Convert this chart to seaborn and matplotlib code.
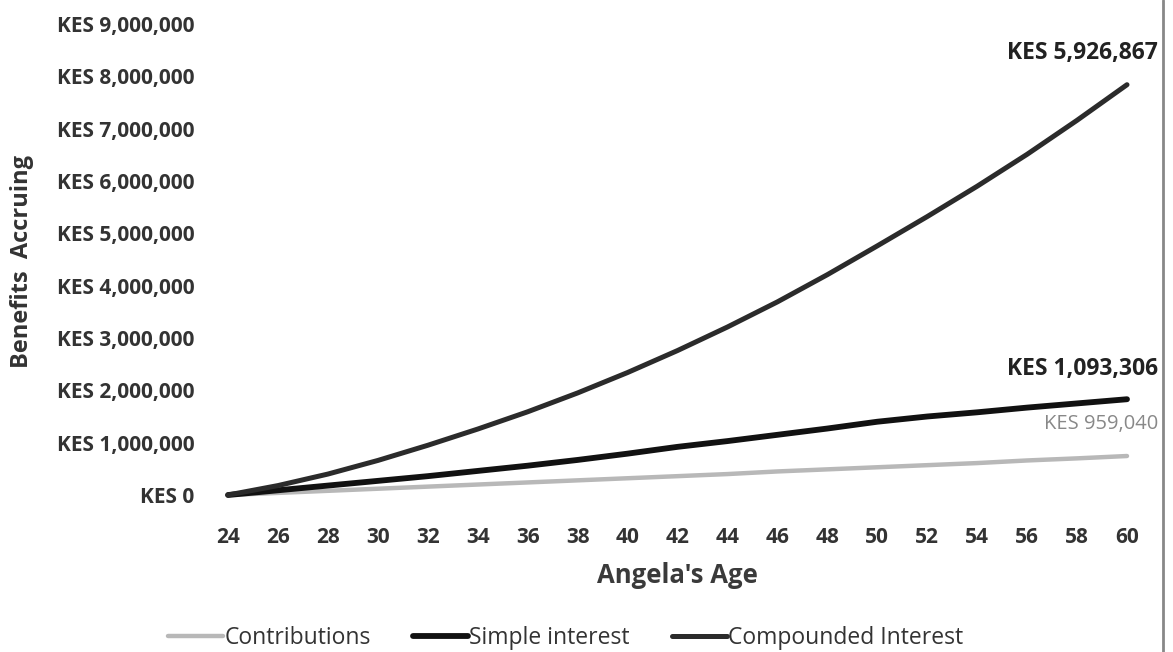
import numpy as np
import pandas as pd
import matplotlib
matplotlib.use("Agg")
import matplotlib.pyplot as plt
from matplotlib.lines import Line2D
import seaborn as sns

# values (KES, millions)
ages = [24, 26, 28, 30, 32, 34, 36, 38, 40, 42, 44, 46, 48, 50, 52, 54, 56, 58, 60]
contributions = [0.0, 0.04, 0.08, 0.12, 0.16, 0.20, 0.24, 0.28, 0.32, 0.36,
                 0.40, 0.45, 0.49, 0.53, 0.57, 0.61, 0.66, 0.70, 0.745]
simple_interest = [0.0, 0.09, 0.18, 0.27, 0.36, 0.46, 0.56, 0.67, 0.79, 0.92,
                   1.03, 1.15, 1.27, 1.40, 1.50, 1.58, 1.67, 1.75, 1.83]
compounded = [0.0, 0.18, 0.40, 0.66, 0.95, 1.26, 1.59, 1.95, 2.34, 2.76,
              3.21, 3.69, 4.21, 4.76, 5.32, 5.90, 6.51, 7.16, 7.84]

series_names = ["Contributions", "Simple interest", "Compounded Interest"]
series_colors = ["#b8b8b8", "#111111", "#2b2b2b"]
series_widths = [3.2, 4.2, 3.6]
end_labels = ["KES 959,040", "KES 1,093,306", "KES 5,926,867"]

rows = []
for name, vals in zip(series_names, [contributions, simple_interest, compounded]):
    for a, v in zip(ages, vals):
        rows.append({"age": a, "value": v * 1e6, "series": name})
df = pd.DataFrame(rows)

sns.set_style("white")
plt.rcParams["font.family"] = ["Open Sans", "DejaVu Sans"]

W, H = 1173, 652
fig = plt.figure(figsize=(W / 100, H / 100), dpi=100)
# axes placed by pixel: x 228..1127, y 24..495
ax = fig.add_axes([228 / W, 1 - 495 / H, (1127 - 228) / W, (495 - 24) / H])

sns.lineplot(data=df, x="age", y="value", hue="series", hue_order=series_names,
             palette=dict(zip(series_names, series_colors)), legend=False, ax=ax)
for line, lw in zip(ax.get_lines(), series_widths):
    line.set_linewidth(lw)
    line.set_solid_capstyle("round")
    line.set_clip_on(False)

ax.set_xlim(24, 60)
ax.set_ylim(0, 9e6)
ax.set_xticks(ages)
ax.set_xticklabels([str(a) for a in ages], fontsize=15, fontweight="bold", color="#333333")
yt = np.arange(0, 9e6 + 1, 1e6)
ax.set_yticks(yt)
ax.set_yticklabels(["KES 0" if v == 0 else f"KES {int(v):,}" for v in yt],
                   fontsize=15, fontweight="bold", color="#333333")
ax.tick_params(axis="x", length=0, pad=23)
ax.tick_params(axis="y", length=0, pad=24)
for s in ax.spines.values():
    s.set_visible(False)
ax.grid(False)

ax.set_xlabel("Angela's Age", fontsize=18.5, fontweight="bold", color="#3a3a3a", labelpad=10)
ax.set_ylabel("")
fig.text(22 / W, 1 - 262 / H, "Benefits  Accruing", rotation=90, ha="center", va="center",
         fontsize=17, fontweight="bold", color="#333333")

# end labels
fig.text(1158 / W, 1 - 53 / H, end_labels[2], ha="right", va="center",
         fontsize=16.5, fontweight="bold", color="#222222")
fig.text(1158 / W, 1 - 369 / H, end_labels[1], ha="right", va="center",
         fontsize=16.5, fontweight="bold", color="#222222")
fig.text(1158 / W, 1 - 424 / H, end_labels[0], ha="right", va="center",
         fontsize=14.5, color="#888888")

handles = [Line2D([0], [0], color=c, lw=lw) for c, lw in zip(series_colors, series_widths)]
fig.legend(handles, series_names, loc="center", bbox_to_anchor=(566 / W, 1 - 638 / H),
           ncol=3, frameon=False, fontsize=16.5, handlelength=2.4, handletextpad=0.05,
           columnspacing=1.85, labelcolor="#333333")

# scan border on the right
fig.add_artist(Line2D([1163 / W, 1163 / W], [0, 1], color="#888888", lw=2))

fig.savefig("out.png", dpi=100)
